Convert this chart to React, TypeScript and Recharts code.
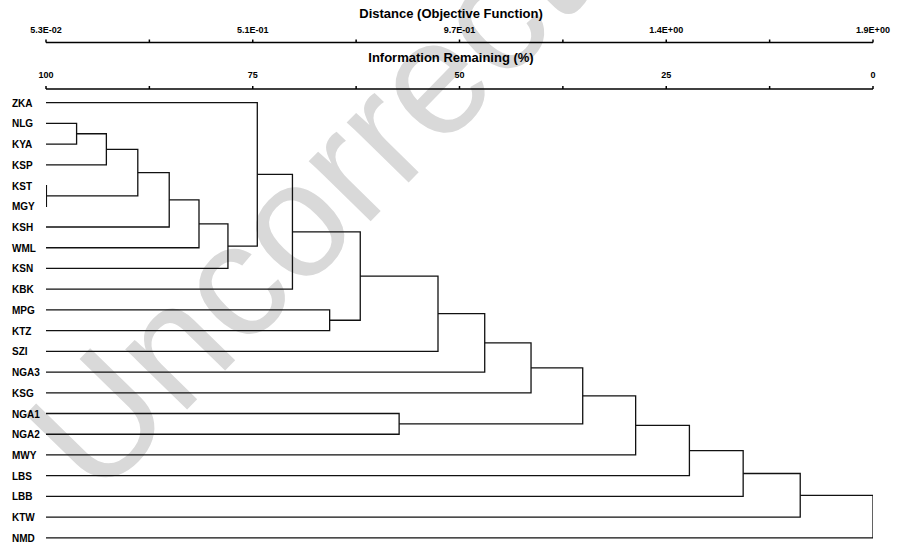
import { ComposedChart, Line, XAxis, YAxis } from 'recharts';

const LEAVES = [
  'ZKA', 'NLG', 'KYA', 'KSP', 'KST', 'MGY', 'KSH', 'WML', 'KSN', 'KBK', 'MPG',
  'KTZ', 'SZI', 'NGA3', 'KSG', 'NGA1', 'NGA2', 'MWY', 'LBS', 'LBB', 'KTW', 'NMD',
];

// clustering steps: child ids (0-21 leaves, 22+ earlier merges) and information remaining (%)
const MERGE_A = [1, 22, 4, 23, 25, 26, 27, 0, 29, 10, 30, 32, 33, 34, 15, 35, 37, 38, 39, 40, 41];
const MERGE_B = [2, 3, 5, 24, 6, 7, 8, 28, 9, 11, 31, 12, 13, 14, 16, 36, 17, 18, 19, 20, 21];
const MERGE_LEVEL = [96.3, 92.7, 99.95, 88.9, 85.1, 81.5, 78.0, 74.45, 70.2, 65.7, 62.0, 52.6, 46.95, 41.35, 57.3, 35.1, 28.7, 22.2, 15.7, 8.8, 0];

const INFO_TICKS = [100, 87.5, 75, 62.5, 50, 37.5, 25, 12.5, 0];
const INFO_LABELS = ['100', '', '75', '', '50', '', '25', '', '0'];
const DIST_LABELS = ['5.3E-02', '', '5.1E-01', '', '9.7E-01', '', '1.4E+00', '', '1.9E+00'];

const FONT = '"Liberation Sans", Arial, sans-serif';

// tree layout: leaves sit at 100%, a merge sits midway between its two children
const nodeX: number[] = LEAVES.map(() => 100);
const nodeY: number[] = LEAVES.map((_, i) => i);
MERGE_LEVEL.forEach((lvl, k) => {
  nodeX.push(lvl);
  nodeY.push((nodeY[MERGE_A[k]] + nodeY[MERGE_B[k]]) / 2);
});
const brackets = MERGE_LEVEL.map((lvl, k) => {
  const a = MERGE_A[k];
  const b = MERGE_B[k];
  return [
    { x: nodeX[a], y: nodeY[a] },
    { x: lvl, y: nodeY[a] },
    { x: lvl, y: nodeY[b] },
    { x: nodeX[b], y: nodeY[b] },
  ];
});

const AxisTitle = (props: any) => {
  const vb = props.viewBox || {};
  return (
    <text
      x={vb.x + vb.width / 2 - 8.5}
      y={vb.y + props.offsetY}
      textAnchor="middle"
      fontFamily={FONT}
      fontWeight="bold"
      fontSize={13}
      fill="#000"
    >
      {props.value}
    </text>
  );
};

const RowTick = (props: any) => (
  <text x={12} y={props.y} dy="0.4em" fontFamily={FONT} fontWeight="bold" fontSize={10} fill="#000">
    {LEAVES[props.payload.value]}
  </text>
);

const axisStyle = { stroke: '#000', strokeWidth: 1.5 };
const tickStyle = { fill: '#000', fontSize: 9, fontWeight: 'bold', fontFamily: FONT };

export default function App() {
  return (
    <div style={{ position: 'absolute', left: 0, top: 0, width: 897, height: 543, overflow: 'hidden', background: '#fff' }}>
      <svg width={897} height={543} style={{ position: 'absolute', left: 0, top: 0 }}>
        <text
          x={407}
          y={184}
          textAnchor="middle"
          transform="rotate(-45.7 407 184)"
          fontFamily={FONT}
          fontSize={163}
          fill="#d9d9d9"
        >
          Uncorrected
        </text>
      </svg>
      <div style={{ position: 'absolute', left: 0, top: 0 }}>
        <ComposedChart width={897} height={543} margin={{ top: 0, right: 24, bottom: 1, left: 0 }}>
          <XAxis
            xAxisId="a-info"
            orientation="top"
            type="number"
            dataKey="x"
            domain={[0, 100]}
            reversed
            allowDataOverflow
            ticks={INFO_TICKS}
            interval={0}
            tickFormatter={(v: number) => INFO_LABELS[INFO_TICKS.indexOf(v)]}
            height={46.5}
            tickSize={3}
            tickMargin={8}
            axisLine={axisStyle}
            tickLine={axisStyle}
            tick={tickStyle}
            label={{ value: 'Information Remaining (%)', content: (p: any) => <AxisTitle {...p} offsetY={19.5} /> }}
          />
          <XAxis
            xAxisId="b-dist"
            orientation="top"
            type="number"
            dataKey="x"
            domain={[0, 100]}
            reversed
            allowDataOverflow
            ticks={INFO_TICKS}
            interval={0}
            tickFormatter={(v: number) => DIST_LABELS[INFO_TICKS.indexOf(v)]}
            height={42.5}
            tickSize={3}
            tickMargin={6.5}
            axisLine={axisStyle}
            tickLine={axisStyle}
            tick={tickStyle}
            label={{ value: 'Distance (Objective Function)', content: (p: any) => <AxisTitle {...p} offsetY={18} /> }}
          />
          <YAxis
            yAxisId="rows"
            type="number"
            domain={[-0.66, 21.2]}
            reversed
            allowDataOverflow
            ticks={LEAVES.map((_, i) => i)}
            interval={0}
            width={46}
            axisLine={false}
            tickLine={false}
            tick={<RowTick />}
          />
          {/* invisible series so the distance axis has data bound to it */}
          <Line
            data={brackets[brackets.length - 1]}
            dataKey="y"
            xAxisId="b-dist"
            yAxisId="rows"
            stroke="none"
            dot={false}
            activeDot={false}
            isAnimationActive={false}
          />
          {brackets.map((pts, k) => (
            <Line
              key={k}
              data={pts}
              dataKey="y"
              xAxisId="a-info"
              yAxisId="rows"
              type="linear"
              stroke="#111"
              strokeWidth={1.3}
              dot={false}
              activeDot={false}
              isAnimationActive={false}
            />
          ))}
        </ComposedChart>
      </div>
    </div>
  );
}
